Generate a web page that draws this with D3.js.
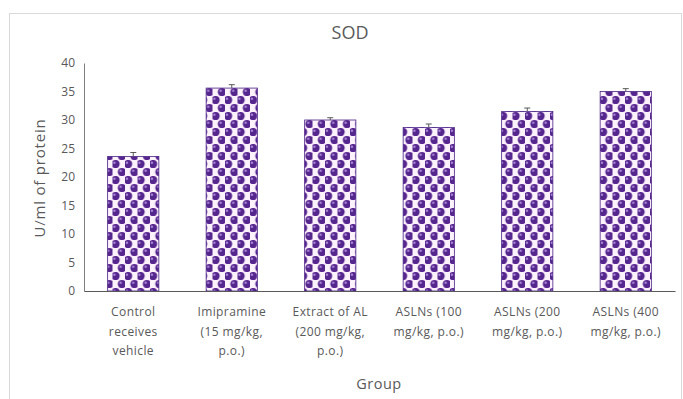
<!DOCTYPE html>
<html>
<head>
<meta charset="utf-8">
<script src="https://cdn.jsdelivr.net/npm/d3@7"></script>
<style>
  html, body { margin: 0; padding: 0; background: #fff; }
  svg { display: block; }
  text { font-family: "Open Sans", "Noto Sans", sans-serif; fill: #595959; }
</style>
</head>
<body>
<svg id="chart" width="683" height="399"></svg>
<script>
// SOD activity per treatment group
const categories = [
  ["Control", "receives", "vehicle"],
  ["Imipramine", "(15 mg/kg,", "p.o.)"],
  ["Extract of AL", "(200 mg/kg,", "p.o.)"],
  ["ASLNs  (100", "mg/kg, p.o.)"],
  ["ASLNs  (200", "mg/kg, p.o.)"],
  ["ASLNs  (400", "mg/kg, p.o.)"]
];
const values = [23.6, 35.6, 30.0, 28.7, 31.5, 35.0];
const errors = [0.7, 0.6, 0.4, 0.6, 0.6, 0.5];
const yTicks = [0, 5, 10, 15, 20, 25, 30, 35, 40];

const svg = d3.select("#chart");
const margin = { left: 84, right: 8, top: 63, bottom: 108 };
const W = 683, H = 399;

// Outer chart frame
svg.append("rect")
  .attr("x", 9.5).attr("y", 13.5)
  .attr("width", 672).attr("height", 400)
  .attr("fill", "#fff").attr("stroke", "#d9d9d9");

// Dotted fill for the bars
const defs = svg.append("defs");
const pat = defs.append("pattern")
  .attr("id", "dots").attr("patternUnits", "userSpaceOnUse")
  .attr("width", 12.5).attr("height", 16);
pat.append("rect").attr("width", 12.5).attr("height", 16).attr("fill", "#efcdf0");
pat.append("rect").attr("x", 6.25).attr("y", 0).attr("width", 6.25).attr("height", 8).attr("fill", "#fbf2fb");
pat.append("rect").attr("x", 0).attr("y", 8).attr("width", 6.25).attr("height", 8).attr("fill", "#fbf2fb");
[[3.1, 4], [9.4, 12]].forEach(([cx, cy]) => {
  pat.append("circle").attr("cx", cx).attr("cy", cy).attr("r", 4.1).attr("fill", "#56268f");
  pat.append("circle").attr("cx", cx - 1.2).attr("cy", cy - 1.3).attr("r", 1.2).attr("fill", "#a487d0");
});

const x = d3.scaleBand()
  .domain(d3.range(categories.length))
  .range([margin.left, W - margin.right])
  .paddingInner(0.48).paddingOuter(0.24);

const y = d3.scaleLinear().domain([0, 40]).range([H - margin.bottom, margin.top]);

// Title
svg.append("text")
  .attr("x", 350).attr("y", 39)
  .attr("text-anchor", "middle")
  .style("font-size", "18px")
  .text("SOD");

// Y axis
const yAxis = svg.append("g")
  .attr("transform", `translate(${margin.left},0)`)
  .call(d3.axisLeft(y).tickValues(yTicks).tickSize(0).tickPadding(9));
yAxis.select(".domain").attr("stroke", "#7f7f7f");
yAxis.selectAll("text").style("font-size", "12px").attr("fill", "#595959");

// Bars
svg.append("g").selectAll("rect")
  .data(values)
  .join("rect")
  .attr("x", (d, i) => x(i))
  .attr("y", d => y(d))
  .attr("width", x.bandwidth())
  .attr("height", d => y(0) - y(d))
  .attr("fill", "url(#dots)")
  .attr("stroke", "#4b2385")
  .attr("stroke-width", 0.8);

// Error bars
const eb = svg.append("g").attr("stroke", "#595959").attr("stroke-width", 1);
values.forEach((v, i) => {
  const cx = x(i) + x.bandwidth() / 2;
  eb.append("line").attr("x1", cx).attr("x2", cx).attr("y1", y(v + errors[i])).attr("y2", y(v));
  eb.append("line").attr("x1", cx - 3).attr("x2", cx + 3).attr("y1", y(v + errors[i])).attr("y2", y(v + errors[i]));
});

// X axis
const xAxis = svg.append("g")
  .attr("transform", `translate(0,${y(0)})`)
  .call(d3.axisBottom(x).tickSize(0).tickFormat(""));
xAxis.select(".domain").attr("stroke", "#595959").attr("stroke-width", 1.2);

// Category labels
const lab = svg.append("g");
categories.forEach((lines, i) => {
  const t = lab.append("text")
    .attr("x", x(i) + x.bandwidth() / 2)
    .attr("y", 316)
    .attr("text-anchor", "middle")
    .style("font-size", "12px")
    .style("letter-spacing", "0.4px");
  lines.forEach((ln, k) => {
    t.append("tspan").attr("x", x(i) + x.bandwidth() / 2).attr("dy", k === 0 ? 0 : 19.5).text(ln);
  });
});

// Axis titles
svg.append("text")
  .attr("x", 379).attr("y", 389)
  .attr("text-anchor", "middle")
  .style("font-size", "14.5px")
  .style("letter-spacing", "0.5px")
  .text("Group");

svg.append("text")
  .attr("transform", "translate(45,178) rotate(-90)")
  .attr("text-anchor", "middle")
  .style("font-size", "15px")
  .style("letter-spacing", "0.8px")
  .text("U/ml of protein");
</script>
</body>
</html>
